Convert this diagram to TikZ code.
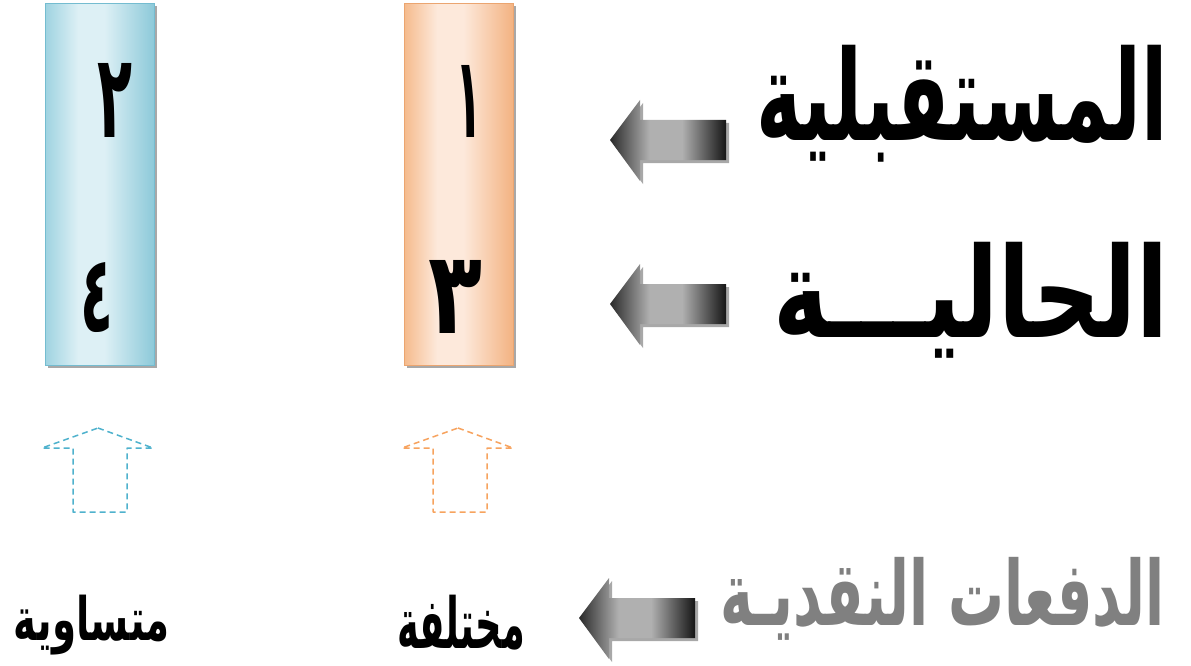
\documentclass[tikz,border=0pt]{standalone}
\usepackage{fontspec}
\usepackage{graphicx}
\newfontfamily\arabicfont[Script=Arabic]{DejaVu Sans}
\TeXXeTstate=1
\usetikzlibrary{shadows}
\definecolor{blueedgeL}{HTML}{9FD3E1}
\definecolor{bluemid}{HTML}{DDF0F5}
\definecolor{blueedgeR}{HTML}{8CC9D9}
\definecolor{blueline}{HTML}{74BCD0}
\definecolor{orgedgeL}{HTML}{F5BB8D}
\definecolor{orgmid}{HTML}{FDE9DB}
\definecolor{orgedgeR}{HTML}{F3B281}
\definecolor{orgline}{HTML}{EBA570}
\definecolor{dashblue}{HTML}{4FB2CD}
\definecolor{dashorg}{HTML}{F7A35F}
\definecolor{shadowgray}{HTML}{A8A8A8}
\definecolor{arrowdark}{HTML}{2A2A2A}
\definecolor{arrowlight}{HTML}{B0B0B0}
\definecolor{arrowblack}{HTML}{151515}
\definecolor{textgray}{HTML}{808080}
\pgfdeclarehorizontalshading{blueshade}{100bp}{color(0bp)=(blueedgeL); color(25bp)=(blueedgeL); color(40bp)=(bluemid); color(52bp)=(bluemid); color(75bp)=(blueedgeR); color(100bp)=(blueedgeR)}
\pgfdeclarehorizontalshading{orgshade}{100bp}{color(0bp)=(orgedgeL); color(25bp)=(orgedgeL); color(40bp)=(orgmid); color(52bp)=(orgmid); color(75bp)=(orgedgeR); color(100bp)=(orgedgeR)}
\pgfdeclarehorizontalshading{arrowshade}{100bp}{color(0bp)=(arrowdark); color(25bp)=(arrowdark); color(42bp)=(arrowlight); color(56bp)=(arrowlight); color(75bp)=(arrowblack); color(100bp)=(arrowblack)}
\newcommand\artext[3]{\resizebox*{#1}{#2}{\arabicfont\bfseries #3}}
\newcommand\blockarrow[4]{%
  \path[fill=shadowgray, shift={(3,3)}] (#2,#3) -- (#2+30,#3-40) -- (#2+30,#3-20) -- (#4,#3-20) -- (#4,#3+20) -- (#2+30,#3+20) -- (#2+30,#3+41) -- cycle;
  \path[bigarrow] (#2,#3) -- (#2+30,#3-40) -- (#2+30,#3-20) -- (#4,#3-20) -- (#4,#3+20) -- (#2+30,#3+20) -- (#2+30,#3+41) -- cycle;
  \coordinate (#1) at (#2,#3);}
\newcommand\dasharrow[3]{%
  \draw[dashup, draw=#3] (#2,428) -- (#2+55,448) -- (#2+29,448) -- (#2+29,512) -- (#2-25,512) -- (#2-25,448) -- (#2-56,448) -- cycle;
  \coordinate (#1) at (#2,428);}
\tikzset{
  txt/.style={inner sep=0pt, outer sep=0pt},
  bar/.style={minimum width=109pt, minimum height=362pt, anchor=north west, inner sep=0pt,
    drop shadow={shadow xshift=3pt, shadow yshift=-3pt, fill=shadowgray, opacity=1}},
  bluebar/.style={bar, draw=blueline, line width=0.8pt, shading=blueshade},
  orgbar/.style={bar, draw=orgline, line width=0.8pt, shading=orgshade},
  bigarrow/.style={shading=arrowshade},
  dashup/.style={dashed, dash pattern=on 6pt off 4pt, line width=1.5pt, line join=round}
}
\begin{document}
\begin{tikzpicture}[x=1pt,y=-1pt]
\useasboundingbox[fill=white] (0,0) rectangle (1191,666);
% bars
\node[bluebar] (barB) at (45,3) {};
\node[orgbar] (barO) at (404,3) {};
% digits
\node[txt, anchor=north west] (d2) at (97,63) {\artext{35pt}{74pt}{٢}};
\node[txt, anchor=north west] (d4) at (80,262) {\artext{33pt}{70pt}{٤}};
\node[txt, anchor=north west] (d1) at (455,65) {\artext{27pt}{72pt}{١}};
\node[txt, anchor=north west] (d3) at (428,260) {\artext{54pt}{73pt}{٣}};
% big arrows
\blockarrow{a1}{610}{140}{726}
\blockarrow{a2}{610}{304}{726}
\blockarrow{a3}{579}{618}{695}
% titles
\node[txt, anchor=north west] (fut) at (756,45) {\artext{412pt}{117pt}{\beginR المستقبلية\endR}};
\node[txt, anchor=north west] (cur) at (773,242) {\artext{395pt}{116pt}{\beginR الحاليـــة\endR}};
\node[txt, anchor=north west, text=textgray] (cash) at (720,557) {\artext{445pt}{83pt}{\beginR الدفعات النقديـة\endR}};
% dashed up arrows
\dasharrow{upB}{98}{dashblue}
\dasharrow{upO}{458}{dashorg}
% bottom words
\node[txt, anchor=north west] (diff) at (397,595) {\artext{128pt}{55pt}{\beginR مختلفة\endR}};
\node[txt, anchor=north west] (equal) at (14,595) {\artext{156pt}{60pt}{\beginR متساوية\endR}};
\end{tikzpicture}
\end{document}
